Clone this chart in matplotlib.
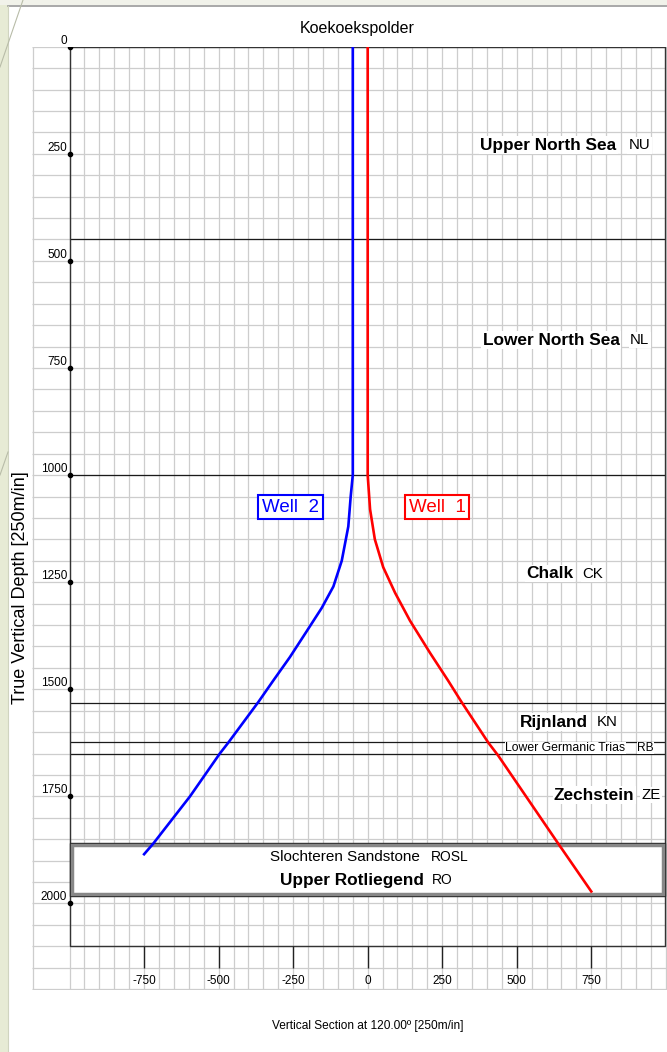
import matplotlib
matplotlib.use("Agg")
import matplotlib.pyplot as plt
from matplotlib.patches import Rectangle
from matplotlib.lines import Line2D

# well trajectories: vertical section [m] against true vertical depth [m]
well1_vs = [0, 0, 8, 24, 52, 92, 142, 209, 270, 315, 405, 438, 634, 750]
well1_tvd = [0, 1000, 1080, 1150, 1215, 1275, 1340, 1415, 1480, 1530, 1625, 1655, 1855, 1972]
well2_vs = [-50, -50, -57, -65, -87, -115, -154, -205, -261, -317, -367, -468, -496, -596, -719, -750]
well2_tvd = [0, 1000, 1050, 1120, 1200, 1260, 1310, 1365, 1425, 1480, 1530, 1625, 1650, 1750, 1860, 1885]

# formation tops and the Rotliegend interval
tops = [450, 1000, 1531, 1623, 1651]
ro_top = 1858
ro_base = 1983

form_names = ["Upper North Sea", "Lower North Sea", "Chalk", "Rijnland",
              "Lower Germanic Trias", "Zechstein", "Slochteren Sandstone", "Upper Rotliegend"]
form_codes = ["NU", "NL", "CK", "KN", "RB", "ZE", "ROSL", "RO"]

x_ticks = [-750, -500, -250, 0, 250, 500, 750]
y_ticks = [0, 250, 500, 750, 1000, 1250, 1500, 1750, 2000]

# label layout (data coords)
name_right = [835, 845, 690, 740, 865, 895, 175, 190]
code_left = [875, 880, 720, 770, 905, 918, 212, 216]
label_y = [230, 685, 1230, 1577, 1637, 1747, 1892, 1946]
name_bold = [True, True, True, True, False, True, False, True]
name_size = [12.4, 12.4, 12.4, 12.4, 8.8, 12.4, 11, 12.4]
code_size = [10.8, 10.8, 10.8, 10.8, 8.6, 10.8, 10, 10]

FONT = ["Liberation Sans", "DejaVu Sans"]
GRID = "#cdcdcd"

fig = plt.figure(figsize=(6.67, 10.52), dpi=100)
fig.patch.set_facecolor("white")

# slide background bits
fig.patches.append(Rectangle((0, 0), 8 / 667, 1, transform=fig.transFigure,
                             facecolor="#e7ebd5", edgecolor="none", zorder=0))
fig.patches.append(Rectangle((0, 1 - 5 / 1052), 1, 5 / 1052, transform=fig.transFigure,
                             facecolor="#f1f2ea", edgecolor="none", zorder=0))
fig.lines.append(Line2D([8 / 667, 1], [1 - 5.5 / 1052] * 2, transform=fig.transFigure,
                        color="#9a9a9a", lw=1.2))
fig.lines.append(Line2D([8 / 667] * 2, [0, 1 - 5.5 / 1052], transform=fig.transFigure,
                        color="#d0d4c0", lw=0.8))
fig.lines.append(Line2D([0, 23 / 667], [1 - 67 / 1052, 1], transform=fig.transFigure,
                        color="#b8bca8", lw=0.8))
fig.lines.append(Line2D([0, 8 / 667], [1 - 475 / 1052, 1 - 452 / 1052], transform=fig.transFigure,
                        color="#b8bca8", lw=0.8))

ax = fig.add_axes([32 / 667, 62 / 1052, 635 / 667, 943.3 / 1052])
ax.set_xlim(-1126, 1004)
ax.set_ylim(2202, 0)
ax.axis("off")

# grid, also outside the frame
ax.vlines(range(-1000, 1001, 50), 0, 2200, colors=GRID, lw=0.9, zorder=1)
ax.vlines(-1123, 0, 2200, colors=GRID, lw=0.9, zorder=1)
ax.hlines(range(0, 2201, 50), -1126, 1004, colors=GRID, lw=0.9, zorder=1)

# frame
ax.plot([-1000, 998, 998, -1000, -1000], [0, 0, 2100, 2100, 0], color="#333333", lw=1.0, zorder=3)

# formation tops
ax.hlines(tops, -1000, 998, colors="#1a1a1a", lw=0.9, zorder=2)

# Rotliegend box
ax.add_patch(Rectangle((-1000, ro_top), 1998, ro_base - ro_top, facecolor="white",
                       edgecolor="#222222", lw=1.0, zorder=3))
ax.add_patch(Rectangle((-992, ro_top + 5), 1982, ro_base - ro_top - 10, fill=False,
                       edgecolor="#888888", lw=2.5, zorder=3))

# ticks
ax.plot([-1000] * len(y_ticks), y_ticks, "o", ms=3, color="black", zorder=6)
for t in y_ticks:
    ax.text(-1008, t, str(t), ha="right", va="bottom", fontsize=8.5, family=FONT, zorder=6)
ax.vlines(x_ticks, 2100, 2150, colors="#222222", lw=1.0, zorder=3)
for t in x_ticks:
    ax.text(t, 2180, str(t), ha="center", va="center", fontsize=8.5, family=FONT, zorder=6)

# formation labels
for i in range(len(form_names)):
    pad = 1.0 if i != 4 else 0.3
    ax.text(name_right[i], label_y[i], form_names[i], ha="right", va="center",
            fontsize=name_size[i], fontweight="bold" if name_bold[i] else "normal",
            family=FONT, zorder=4, bbox=dict(facecolor="white", edgecolor="none", pad=pad))
    ax.text(code_left[i], label_y[i], form_codes[i], ha="left", va="center",
            fontsize=code_size[i], family=FONT, zorder=4,
            bbox=dict(facecolor="white", edgecolor="none", pad=pad))

# wells
ax.plot(well2_vs, well2_tvd, color="#0000ff", lw=1.9, zorder=5)
ax.plot(well1_vs, well1_tvd, color="#ff0000", lw=1.9, zorder=5)

ax.text(-259, 1075, "Well  2", ha="center", va="center", fontsize=13.5, color="#0000ff",
        family=FONT, zorder=7,
        bbox=dict(facecolor="white", edgecolor="#0000ff", lw=1.5, pad=2.5))
ax.text(233, 1075, "Well  1", ha="center", va="center", fontsize=13.5, color="#ff0000",
        family=FONT, zorder=7,
        bbox=dict(facecolor="white", edgecolor="#ff0000", lw=1.5, pad=2.5))

fig.text(357 / 667, 1 - 28 / 1052, "Koekoekspolder", ha="center", va="center",
         fontsize=11.5, family=FONT)
fig.text(368 / 667, 1 - 1026 / 1052, "Vertical Section at 120.00º [250m/in]",
         ha="center", va="center", fontsize=8.6, family=FONT)
fig.text(21 / 667, 1 - 588 / 1052, "True Vertical Depth [250m/in]", rotation=90,
         ha="center", va="center", fontsize=13, family=FONT)

fig.savefig("out.png", dpi=100)
